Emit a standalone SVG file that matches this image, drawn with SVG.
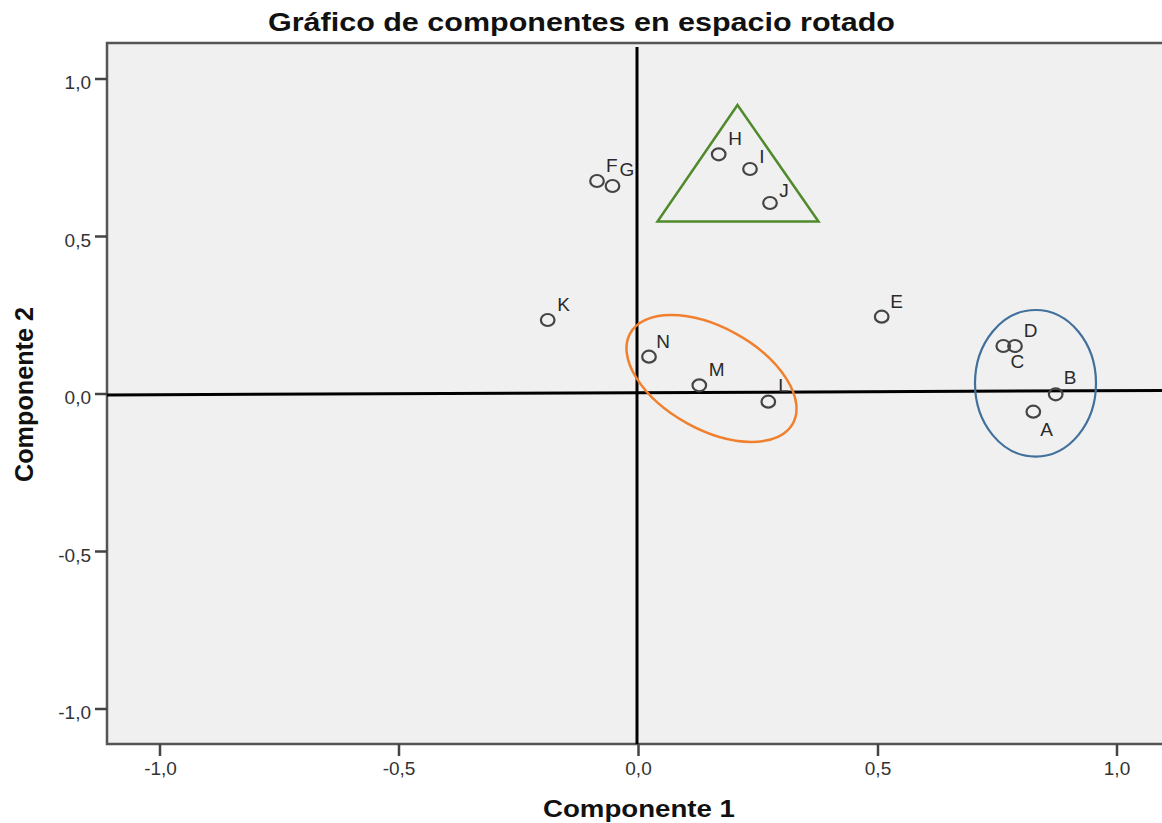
<svg xmlns="http://www.w3.org/2000/svg" width="1162" height="823" viewBox="0 0 1162 823">
<style>
.tick{stroke:#444;stroke-width:2.5}
.tl{font-family:"Liberation Sans",Arial,sans-serif;font-size:19px;fill:#333}
.pl{font-family:"Liberation Sans",Arial,sans-serif;font-size:19px;fill:#2a2a2a;text-anchor:middle}
.pt{fill:none;stroke:#444;stroke-width:2.2}
.ttl{font-family:"Liberation Sans",Arial,sans-serif;font-weight:bold;fill:#111}
</style>
<rect width="1162" height="823" fill="#ffffff"/>
<g id="plot-area">
<rect x="107" y="43" width="1060" height="701" fill="#f0f0f0"/>
<path d="M1162 43 H107 V744 H1162" fill="none" stroke="#555" stroke-width="2.5"/>
</g>
<g id="y-ticks">
<path class="tick" d="M95 79 H107 M95 236.5 H107 M95 394 H107 M95 551.5 H107 M95 709 H107"/>
<text class="tl" x="91" y="89" text-anchor="end">1,0</text>
<text class="tl" x="91" y="246.5" text-anchor="end">0,5</text>
<text class="tl" x="91" y="404" text-anchor="end">0,0</text>
<text class="tl" x="91" y="561.5" text-anchor="end">-0,5</text>
<text class="tl" x="91" y="719" text-anchor="end">-1,0</text>
</g>
<g id="x-ticks">
<path class="tick" d="M160 744 V756 M399 744 V756 M638.5 744 V756 M878 744 V756 M1117 744 V756"/>
<text class="tl" x="160.5" y="775" text-anchor="middle">-1,0</text>
<text class="tl" x="399" y="775" text-anchor="middle">-0,5</text>
<text class="tl" x="638.5" y="775" text-anchor="middle">0,0</text>
<text class="tl" x="878" y="775" text-anchor="middle">0,5</text>
<text class="tl" x="1117" y="775" text-anchor="middle">1,0</text>
</g>
<g id="axes">
<line x1="637" y1="47" x2="637" y2="744" stroke="#000" stroke-width="3"/>
<line x1="107" y1="395" x2="1162" y2="390.5" stroke="#000" stroke-width="3"/>
</g>
<g id="group-triangle">
<polygon points="737.5,105 657.5,221.5 818.5,221.5" fill="none" stroke="#4f8a2b" stroke-width="2.5"/>
</g>
<g id="group-orange">
<ellipse cx="711.5" cy="378.5" rx="93" ry="51" transform="rotate(29 711.5 378.5)" fill="none" stroke="#f0802e" stroke-width="2.5"/>
</g>
<g id="group-blue">
<ellipse cx="1035.5" cy="383.3" rx="60.5" ry="73.3" fill="none" stroke="#41709c" stroke-width="2.2"/>
</g>
<g id="pt-F"><ellipse class="pt" cx="597" cy="181" rx="6.8" ry="6"/><text class="pl" x="611.7" y="171.7">F</text></g>
<g id="pt-G"><ellipse class="pt" cx="612.5" cy="186" rx="6.8" ry="6"/><text class="pl" x="627" y="176">G</text></g>
<g id="pt-H"><ellipse class="pt" cx="718.7" cy="154.3" rx="6.8" ry="6"/><text class="pl" x="735" y="145">H</text></g>
<g id="pt-I"><ellipse class="pt" cx="750" cy="169" rx="6.8" ry="6"/><text class="pl" x="762" y="163">I</text></g>
<g id="pt-J"><ellipse class="pt" cx="770" cy="203" rx="6.8" ry="6"/><text class="pl" x="784" y="196.7">J</text></g>
<g id="pt-K"><ellipse class="pt" cx="547.7" cy="320" rx="6.8" ry="6"/><text class="pl" x="563.5" y="310.7">K</text></g>
<g id="pt-N"><ellipse class="pt" cx="649" cy="356.7" rx="6.8" ry="6"/><text class="pl" x="663" y="348">N</text></g>
<g id="pt-M"><ellipse class="pt" cx="699.3" cy="385.3" rx="6.8" ry="6"/><text class="pl" x="716.7" y="376">M</text></g>
<g id="pt-L"><ellipse class="pt" cx="768.3" cy="401.7" rx="6.8" ry="6"/><text class="pl" x="783.5" y="392">L</text></g>
<g id="pt-E"><ellipse class="pt" cx="881.7" cy="316.7" rx="6.8" ry="6"/><text class="pl" x="896.7" y="308">E</text></g>
<g id="pt-D"><ellipse class="pt" cx="1015" cy="346" rx="6.8" ry="6"/><text class="pl" x="1030.7" y="337.3">D</text></g>
<g id="pt-C"><ellipse class="pt" cx="1003.3" cy="346" rx="6.8" ry="6"/><text class="pl" x="1017.3" y="368.3">C</text></g>
<g id="pt-B"><ellipse class="pt" cx="1055.7" cy="394.3" rx="6.8" ry="6"/><text class="pl" x="1070" y="384">B</text></g>
<g id="pt-A"><ellipse class="pt" cx="1033.3" cy="411.7" rx="6.8" ry="6"/><text class="pl" x="1046.7" y="436">A</text></g>
<g id="titles">
<text class="ttl" x="581.5" y="31" font-size="25" text-anchor="middle" textLength="627" lengthAdjust="spacingAndGlyphs">Gráfico de componentes en espacio rotado</text>
<text class="ttl" x="639" y="816.7" font-size="23" text-anchor="middle" textLength="192" lengthAdjust="spacingAndGlyphs">Componente 1</text>
<text class="ttl" transform="translate(33 394.5) rotate(-90)" x="0" y="0" font-size="25" text-anchor="middle" textLength="175" lengthAdjust="spacingAndGlyphs">Componente 2</text>
</g>
</svg>
